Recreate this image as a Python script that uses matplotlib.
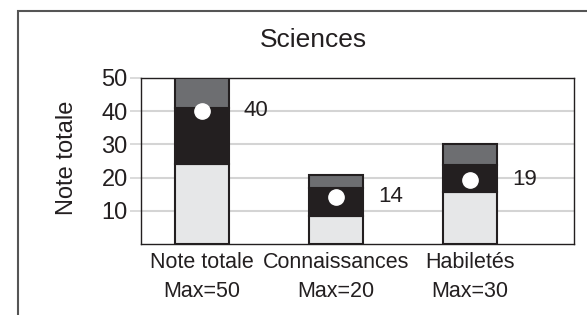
import matplotlib
matplotlib.use("Agg")
import matplotlib.pyplot as plt
from matplotlib.patches import Rectangle

plt.rcParams['font.family'] = ['Liberation Sans', 'DejaVu Sans']

categories = ["Note totale", "Connaissances", "Habiletés"]
max_labels = ["Max=50", "Max=20", "Max=30"]
seg_low = [24.1, 8.4, 15.6]
seg_mid = [17.0, 8.5, 8.2]
seg_top = [8.9, 3.9, 6.3]
scores = [40.1, 14.2, 19.3]
score_labels = ["40", "14", "19"]
yticks = [10, 20, 30, 40, 50]
title = "Sciences"
ylabel = "Note totale"

W, H = 587, 315
fig = plt.figure(figsize=(W / 100, H / 100), dpi=100)
fig.patch.set_facecolor("white")

# outer frame
fig.patches.append(Rectangle((18 / W, -0.1), 1.2, 1 - 11 / H + 0.1,
                             transform=fig.transFigure, fill=False,
                             edgecolor="#555555", linewidth=1.5, zorder=0))

ax = fig.add_axes([141 / W, 1 - 244 / H, (574 - 141) / W, (244 - 78) / H])
ax.set_zorder(1)

c_low, c_mid, c_top = "#e6e7e8", "#231f20", "#6d6e71"
edge = "#231f20"
x = list(range(len(categories)))
width = 0.403

ax.bar(x, seg_low, width, color=c_low, edgecolor=edge, linewidth=1.5, zorder=3)
bottom2 = [a for a in seg_low]
ax.bar(x, seg_mid, width, bottom=bottom2, color=c_mid, edgecolor=edge, linewidth=1.5, zorder=3)
bottom3 = [a + b for a, b in zip(seg_low, seg_mid)]
ax.bar(x, seg_top, width, bottom=bottom3, color=c_top, edgecolor=edge, linewidth=1.5, zorder=3)

ax.plot(x, scores, linestyle="none", marker="o", markersize=11,
        markerfacecolor="white", markeredgecolor="white", zorder=4)
for xi, s, lab in zip(x, scores, score_labels):
    ax.text(xi + width / 2 + 0.112, s, lab, ha="left", va="center",
            fontsize=16, color="#231f20", zorder=5)

ax.set_xlim(-0.455, 2.776)
ax.set_ylim(0, 50)
ax.set_yticks(yticks)
ax.set_yticklabels([str(t) for t in yticks], fontsize=17, color="#231f20")
ax.yaxis.grid(True, color="#d4d4d4", linewidth=1.5, zorder=0)
ax.set_axisbelow(True)
ax.tick_params(axis="y", length=8, width=1.2, color="#d4d4d4", pad=1.5)

ax.set_xticks(x)
ax.set_xticklabels([f"{c}\n{m}" for c, m in zip(categories, max_labels)],
                   fontsize=15.5, color="#231f20", linespacing=1.5)
ax.tick_params(axis="x", length=0, pad=6)

for sp in ax.spines.values():
    sp.set_color("#231f20")
    sp.set_linewidth(1.0)

fig.text(313 / W, 1 - 47 / H, title, ha="center", va="baseline",
         fontsize=19, color="#231f20")
fig.text(67 / W, 1 - 158 / H, ylabel, ha="center", va="center",
         rotation=90, fontsize=17, color="#231f20")

fig.savefig("out.png", dpi=100)
